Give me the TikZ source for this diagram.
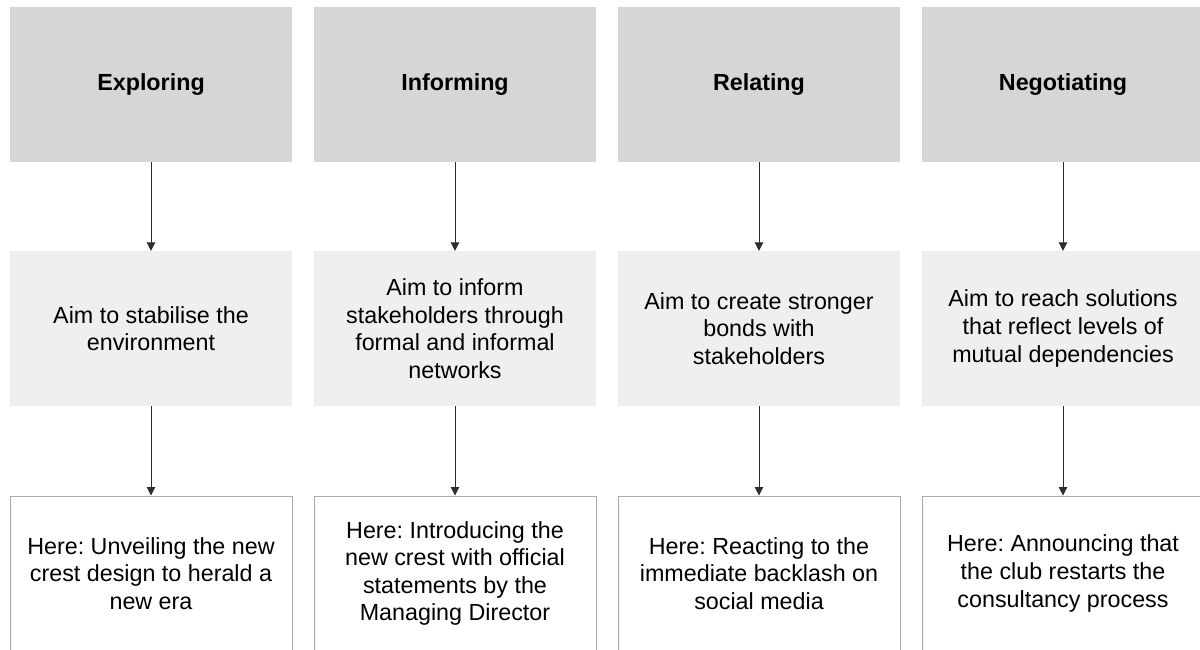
\documentclass[tikz,border=0pt]{standalone}
\usepackage{fontspec}
\setmainfont{Liberation Sans}
\usetikzlibrary{arrows.meta}
\definecolor{topgray}{HTML}{D6D6D6}
\definecolor{midgray}{HTML}{EFEFEF}
\definecolor{boxline}{HTML}{A8A8A8}
\definecolor{arrowcol}{HTML}{2E2E2E}
\tikzset{
  base/.style={minimum width=282pt, minimum height=155pt, inner sep=0pt, align=center,
    font=\fontsize{23.3}{27.6}\selectfont\frenchspacing, text=black},
  headbox/.style={base, fill=topgray, font=\fontsize{23.3}{27.6}\selectfont\bfseries},
  aimbox/.style={base, fill=midgray},
  herebox/.style={base, fill=white, draw=boxline, line width=1pt},
  conn/.style={draw=arrowcol, line width=1pt, -{Triangle[width=8.5pt,length=8.5pt]}}
}
\begin{document}
\begin{tikzpicture}[x=1pt,y=1pt]
\useasboundingbox (0,0) rectangle (1200,-649);
\clip (0,0) rectangle (1200,-649);
\fill[white] (0,0) rectangle (1200,-649);
% headers
\node[headbox] (h1) at (151,-84.5) {Exploring};
\node[headbox] (h2) at (455,-84.5) {Informing};
\node[headbox] (h3) at (759,-84.5) {Relating};
\node[headbox] (h4) at (1063,-84.5) {Negotiating};
% aims
\node[aimbox] (a1) at (151,-328.5) {Aim to stabilise the\\environment};
\node[aimbox] (a2) at (455,-328.5) {Aim to inform\\stakeholders through\\formal and informal\\networks};
\node[aimbox] (a3) at (759,-328.5) {Aim to create stronger\\bonds with\\stakeholders};
\node[aimbox] (a4) at (1063,-328.5) {Aim to reach solutions\\that reflect levels of\\mutual dependencies};
% examples
\node[herebox] (e1) at (151,-573.5) {Here: Unveiling the new\\crest design to herald a\\new era};
\node[herebox] (e2) at (455,-573.5) {Here: Introducing the\\new crest with official\\statements by the\\Managing Director};
\node[herebox] (e3) at (759,-573.5) {Here: Reacting to the\\immediate backlash on\\social media};
\node[herebox] (e4) at (1063,-573.5) {Here: Announcing that\\the club restarts the\\consultancy process};
% connectors
\foreach \i in {1,2,3,4} {
  \draw[conn] (h\i.south) -- (a\i.north);
  \draw[conn] (a\i.south) -- (e\i.north);
}
\end{tikzpicture}
\end{document}
